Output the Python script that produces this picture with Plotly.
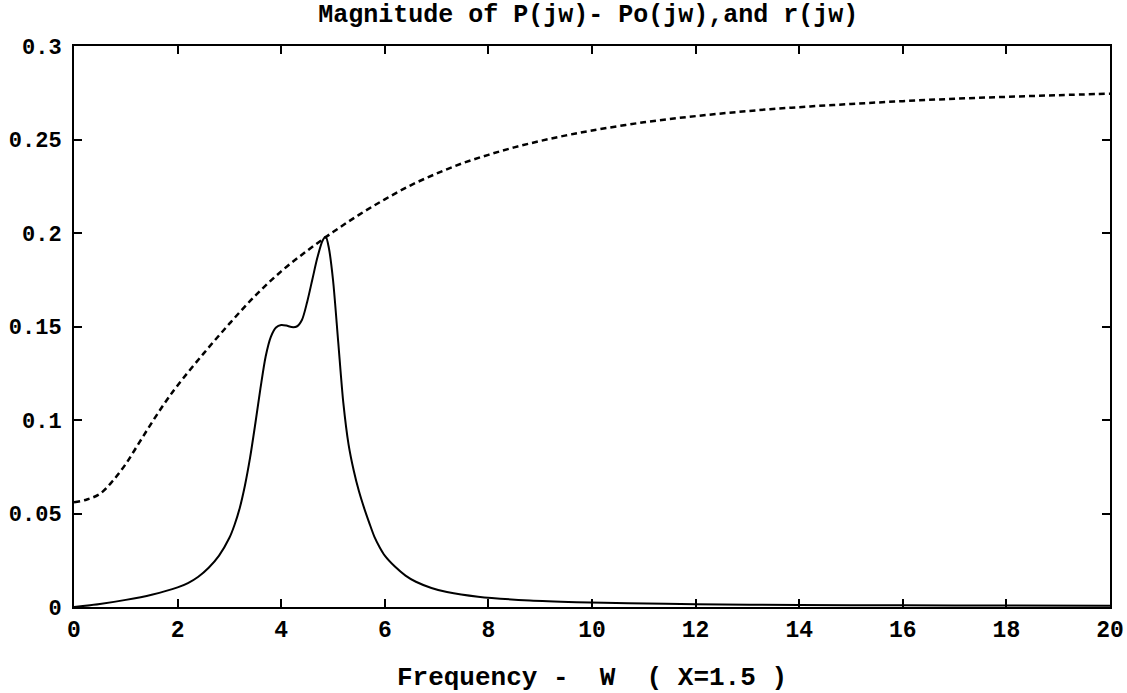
import plotly.graph_objects as go

# |P(jw) - Po(jw)|  (solid)
w_p = [0, 0.5, 1.0, 1.5, 2.0, 2.2, 2.4, 2.6, 2.8, 3.0, 3.1, 3.2, 3.3, 3.4, 3.5, 3.6, 3.7,
       3.8, 3.9, 4.0, 4.1, 4.2, 4.3, 4.4, 4.5, 4.6, 4.7, 4.8, 4.86, 4.92, 5.0, 5.1, 5.2,
       5.3, 5.4, 5.5, 5.6, 5.7, 5.8, 5.9, 6.0, 6.2, 6.4, 6.6, 6.9, 7.2, 7.8, 8.8, 9.7,
       10.7, 12, 14, 16, 18, 20]
mag_p = [0, 0.0016, 0.0038, 0.0066, 0.0105, 0.0128, 0.0162, 0.0210, 0.0275, 0.0370,
         0.0440, 0.0530, 0.0650, 0.0800, 0.0980, 0.1170, 0.1340, 0.1445, 0.1495, 0.1508,
         0.1505, 0.1497, 0.1500, 0.1535, 0.1630, 0.1750, 0.1870, 0.1960, 0.1980, 0.1920,
         0.1750, 0.1420, 0.1090, 0.0870, 0.0730, 0.0620, 0.0530, 0.0450, 0.0375, 0.0320,
         0.0275, 0.0215, 0.0168, 0.0135, 0.0102, 0.0080, 0.0055, 0.0035, 0.0026, 0.0020,
         0.0015, 0.0011, 0.0009, 0.0008, 0.0007]

# |r(jw)|  (dashed)
w_r = [0, 0.25, 0.5, 0.75, 1, 1.25, 1.5, 1.75, 2, 2.5, 3, 3.5, 4, 4.5, 5, 5.5, 6, 6.5,
       7, 7.5, 8, 8.5, 9, 9.5, 10, 11, 12, 13, 14, 15, 16, 17, 18, 19, 20]
mag_r = [0.056, 0.0575, 0.0605, 0.0675, 0.0765, 0.0875, 0.0985, 0.109, 0.1185, 0.1355,
         0.1515, 0.1665, 0.1795, 0.1905, 0.2005, 0.2097, 0.218, 0.2255, 0.2318, 0.2373,
         0.2418, 0.2458, 0.2492, 0.2522, 0.2548, 0.2592, 0.2625, 0.2652, 0.2673, 0.269,
         0.2705, 0.2718, 0.2728, 0.2737, 0.2745]

title_text = "Magnitude of P(jw)- Po(jw),and r(jw)"
x_title = "Frequency -  W  ( X=1.5 )"

FONT = "Liberation Mono"

fig = go.Figure()
fig.add_trace(go.Scatter(x=w_r, y=mag_r, mode="lines",
                         line=dict(color="black", width=2.5, dash="6px,4px", shape="spline", smoothing=1.0),
                         showlegend=False))
fig.add_trace(go.Scatter(x=w_p, y=mag_p, mode="lines",
                         line=dict(color="black", width=2, shape="spline", smoothing=0.8),
                         showlegend=False))

fig.update_layout(
    width=1127, height=693,
    margin=dict(l=74, r=17, t=46, b=86),
    paper_bgcolor="white", plot_bgcolor="white",
    title=dict(text="<b>" + title_text + "</b>", x=0.522, xanchor="center", y=0.981, yanchor="middle",
               font=dict(family=FONT, size=25, color="black")),
    font=dict(family=FONT, color="black"),
)
fig.update_xaxes(range=[0, 20], tick0=0, dtick=2, ticks="inside", ticklen=8, tickwidth=2,
                 tickcolor="black", showline=True, linecolor="black", linewidth=2, mirror="ticks",
                 showgrid=False, zeroline=False, automargin=False,
                 tickfont=dict(family=FONT, size=23, color="black"),
                 tickprefix="<b>", ticksuffix="</b>",
                 title=dict(text="<b>" + x_title + "</b>", font=dict(family=FONT, size=26, color="black"),
                            standoff=28))
fig.update_yaxes(range=[0, 0.3], tick0=0, dtick=0.05, ticks="inside", ticklen=8, tickwidth=2,
                 tickcolor="black", showline=True, linecolor="black", linewidth=2, mirror="ticks",
                 showgrid=False, zeroline=False, automargin=False, ticklabelstandoff=6,
                 tickfont=dict(family=FONT, size=22, color="black"),
                 tickprefix="<b>", ticksuffix="</b>")

fig.write_html("out.html", config={"displayModeBar": False},
               post_script="document.body.style.margin='0px';document.body.style.overflow='hidden';")
